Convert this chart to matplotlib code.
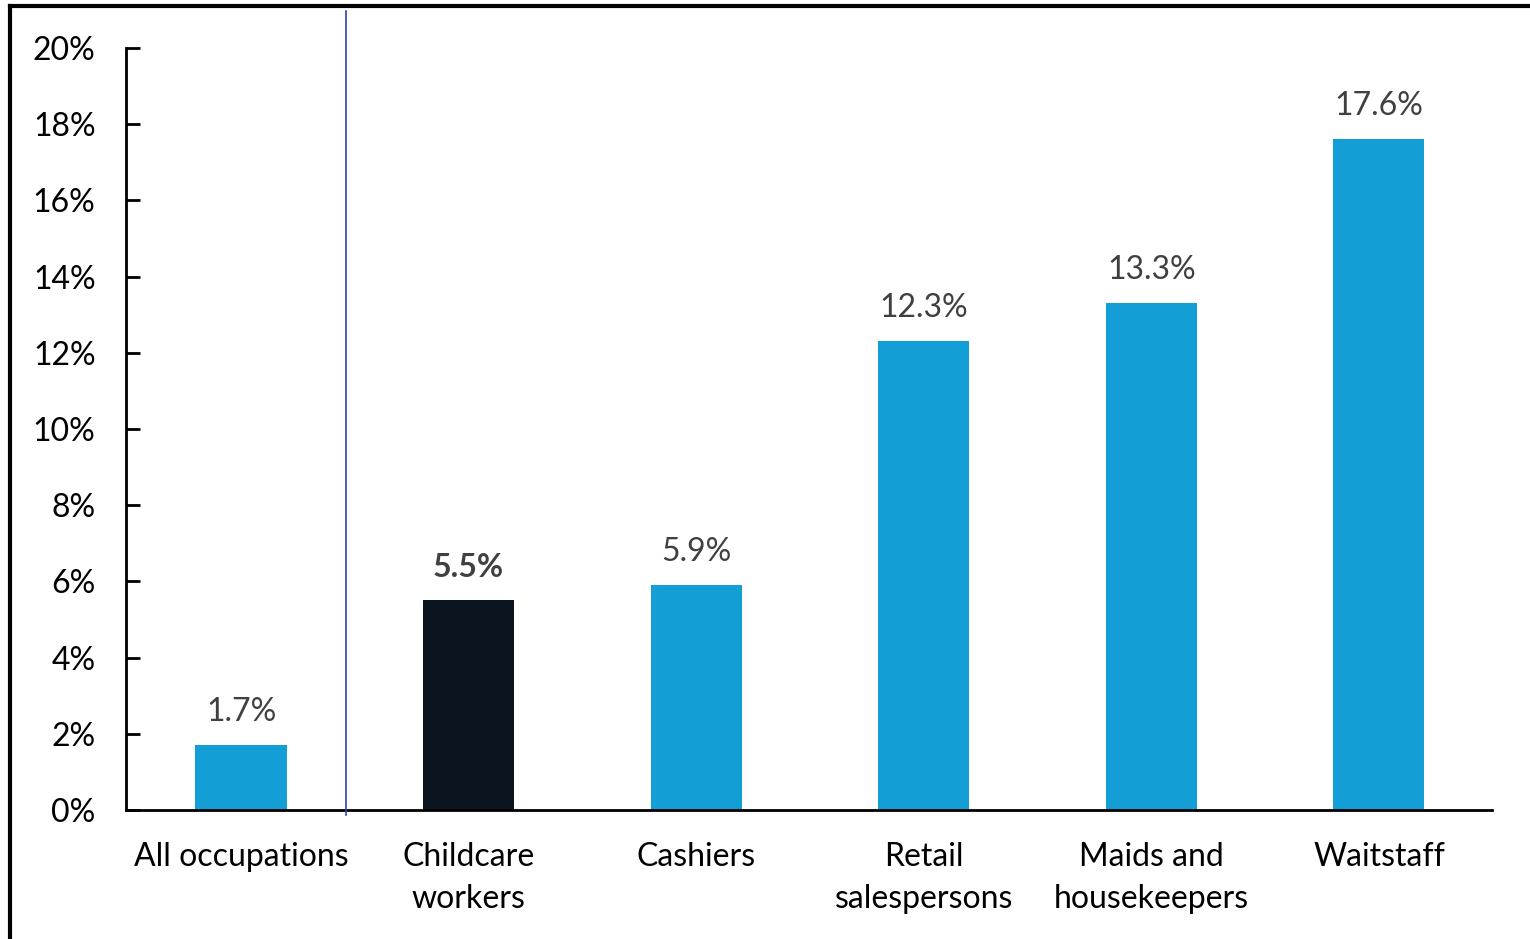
import matplotlib.pyplot as plt
from matplotlib.lines import Line2D
from matplotlib.ticker import FuncFormatter, MultipleLocator

plt.rcParams["font.family"] = ["Lato", "DejaVu Sans"]

categories = ["All occupations", "Childcare\nworkers", "Cashiers",
              "Retail\nsalespersons", "Maids and\nhousekeepers", "Waitstaff"]
shares = [1.7, 5.5, 5.9, 12.3, 13.3, 17.6]
highlight = "Childcare\nworkers"

BLUE = "#139fd6"
DARK = "#0a1520"
LABEL_GREY = "#404040"

fig = plt.figure(figsize=(15.3, 9.39), dpi=100)
ax = fig.add_axes([0.0824, 0.1374, 0.8928, 0.8115])

x = list(range(len(categories)))
colors = [DARK if c == highlight else BLUE for c in categories]
bars = ax.bar(x, shares, width=0.4, color=colors, zorder=2)

for rect, val, cat in zip(bars, shares, categories):
    bold = cat == highlight
    ax.annotate(f"{val:.1f}%", (rect.get_x() + rect.get_width() / 2, val),
                xytext=(0, 13), textcoords="offset points",
                ha="center", va="bottom", fontsize=23,
                color=LABEL_GREY, fontweight="bold" if bold else "normal")

ax.set_xlim(-0.505, 5.497)
ax.set_ylim(0, 20)
ax.yaxis.set_major_locator(MultipleLocator(2))
ax.yaxis.set_major_formatter(FuncFormatter(lambda v, _: f"{v:.0f}%"))
ax.set_xticks(x)
ax.set_xticklabels(categories, fontsize=23, linespacing=1.52)
ax.tick_params(axis="x", length=0, pad=23)
ax.tick_params(axis="y", direction="in", length=10, width=2, labelsize=23, pad=22)
for lbl in ax.get_yticklabels():
    lbl.set_horizontalalignment("right")

for side in ("top", "right"):
    ax.spines[side].set_visible(False)
for side in ("left", "bottom"):
    ax.spines[side].set_linewidth(2)

# thin divider between the total and the individual occupations
ax.plot([0.46, 0.46], [-0.12, 20.98], color="#2a44b0", linewidth=1.2,
        clip_on=False, zorder=3)

# outer frame (top and left edges)
fig.add_artist(Line2D([0.0065, 1.0], [0.9936, 0.9936], color="black", linewidth=3))
fig.add_artist(Line2D([0.0065, 0.0065], [0.0, 0.9936], color="black", linewidth=3))

fig.savefig("out.png", dpi=100, facecolor="white")
